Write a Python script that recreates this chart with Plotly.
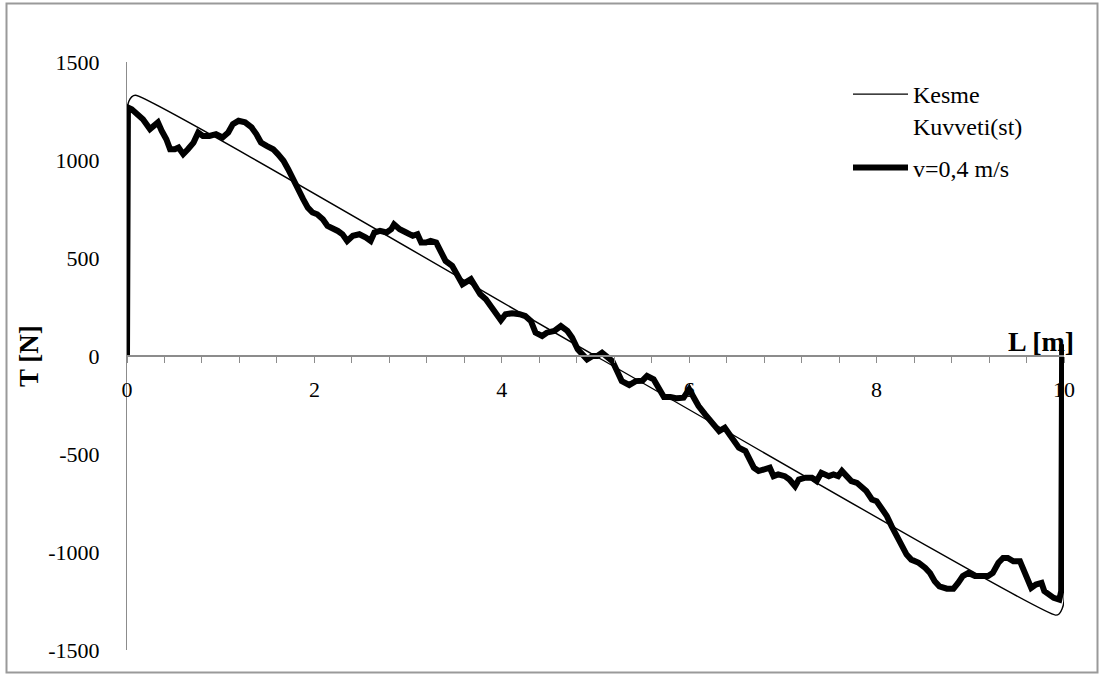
import plotly.graph_objects as go

# Kesme kuvveti (theoretical shear force) along the beam
L_st = [0.0, 0.0, 0.02, 0.05, 0.09, 5.0, 9.91, 9.95, 9.98, 10.0, 10.0]
T_st = [0, 1250, 1300, 1322, 1330, 0, -1322, -1315, -1290, -1250, 0]

# Measured force, v = 0,4 m/s
L_v04 = [0.0, 0.01, 0.05, 0.10, 0.17, 0.245, 0.30, 0.33, 0.37, 0.42, 0.46, 0.51,
         0.55, 0.60, 0.65, 0.71, 0.76, 0.81, 0.88, 0.95, 1.02, 1.08, 1.13, 1.19,
         1.26, 1.33, 1.38, 1.43, 1.49, 1.56, 1.61, 1.67, 1.72, 1.77, 1.82, 1.88,
         1.93, 1.98, 2.03, 2.09, 2.14, 2.19, 2.25, 2.30, 2.35, 2.41, 2.48, 2.55,
         2.60, 2.64, 2.70, 2.77, 2.82, 2.85, 2.91, 2.98, 3.05, 3.10, 3.14, 3.19,
         3.24, 3.30, 3.35, 3.40, 3.47, 3.53, 3.58, 3.67, 3.72, 3.77, 3.83, 3.88,
         3.94, 3.99, 4.04, 4.11, 4.19, 4.25, 4.31, 4.36, 4.43, 4.48, 4.56, 4.63,
         4.70, 4.75, 4.81, 4.86, 4.91, 4.97, 5.02, 5.07, 5.12, 5.18, 5.23, 5.28,
         5.36, 5.43, 5.50, 5.55, 5.62, 5.68, 5.73, 5.80, 5.87, 5.94, 6.00, 6.05,
         6.10, 6.17, 6.24, 6.32, 6.38, 6.45, 6.53, 6.60, 6.65, 6.69, 6.74, 6.81,
         6.86, 6.90, 6.95, 7.02, 7.07, 7.13, 7.17, 7.24, 7.31, 7.36, 7.41, 7.49,
         7.54, 7.59, 7.63, 7.68, 7.73, 7.79, 7.84, 7.89, 7.95, 8.00, 8.05, 8.11,
         8.16, 8.21, 8.27, 8.32, 8.37, 8.45, 8.52, 8.57, 8.62, 8.67, 8.75, 8.82,
         8.87, 8.92, 8.98, 9.05, 9.12, 9.19, 9.24, 9.30, 9.35, 9.40, 9.46, 9.53,
         9.56, 9.60, 9.65, 9.70, 9.76, 9.79, 9.84, 9.89, 9.95, 9.97, 9.98]
T_v04 = [0, 1268, 1259, 1234, 1208, 1158, 1183, 1192, 1149, 1106, 1055, 1055,
         1064, 1030, 1055, 1089, 1140, 1123, 1123, 1132, 1115, 1140, 1183, 1200,
         1192, 1166, 1132, 1089, 1072, 1055, 1030, 996, 953, 902, 851, 800,
         757, 732, 723, 698, 664, 655, 638, 621, 587, 613, 621, 604,
         587, 630, 638, 630, 647, 672, 647, 630, 613, 621, 579, 579,
         587, 579, 536, 485, 460, 408, 366, 392, 357, 315, 289, 255,
         213, 182, 213, 218, 213, 204, 179, 119, 102, 119, 128, 153,
         128, 94, 34, 9, -17, 0, 0, 17, 0, -26, -77, -128,
         -148, -128, -126, -102, -119, -162, -209, -209, -216, -213, -170, -213,
         -255, -298, -341, -383, -366, -417, -468, -485, -536, -570, -587, -579,
         -570, -613, -604, -613, -630, -664, -630, -621, -621, -638, -596, -613,
         -604, -613, -587, -613, -638, -647, -664, -689, -732, -741, -775, -817,
         -868, -919, -970, -1013, -1039, -1055, -1081, -1107, -1149, -1175, -1187, -1187,
         -1158, -1123, -1107, -1123, -1123, -1123, -1107, -1055, -1030, -1030, -1047, -1047,
         -1081, -1132, -1183, -1166, -1158, -1200, -1217, -1234, -1243, -1200, 60]

y_tickvals = [1500, 1000, 500, 0, -500, -1000, -1500]
y_ticktext = ["1500", "1000", "500", "0", "-500", "-1000", "-1500"]
x_tickvals = [0, 2, 4, 6, 8, 10]
x_ticktext = ["0", "2", "4", "6", "8", "10"]

W, H = 1103, 675
ML, MR, MT, MB = 127, 39, 62, 25
FONT = "Liberation Serif, Times New Roman, serif"

fig = go.Figure()
fig.add_trace(go.Scatter(
    x=L_st, y=T_st, mode="lines", name="Kesme<br>Kuvveti(st)",
    legendgroup="st",
    line=dict(color="black", width=1.4, shape="spline", smoothing=0.6),
))
fig.add_trace(go.Scatter(
    x=L_v04, y=T_v04, mode="lines", name="v=0,4 m/s",
    legendgroup="v04",
    line=dict(color="black", width=6),
))

# outer chart frame, expressed in paper units from pixel positions
pw, ph = W - ML - MR, H - MT - MB
def px_x(p):
    return (p - ML) / pw
def px_y(p):
    return (H - MB - p) / ph

fig.add_shape(type="rect", xref="paper", yref="paper",
              x0=px_x(6.5), x1=px_x(1097.5), y0=px_y(672.5), y1=px_y(3.5),
              line=dict(color="#9a9a9a", width=2), layer="below")

fig.add_annotation(text="<b>L [m]</b>", xref="paper", yref="paper",
                   x=px_x(1041), y=px_y(341), xanchor="center", yanchor="middle",
                   showarrow=False,
                   font=dict(family=FONT, size=28, color="black"))
fig.add_annotation(text="<b>T [N]</b>", xref="paper", yref="paper",
                   x=px_x(29), y=px_y(356), xanchor="center", yanchor="middle",
                   showarrow=False, textangle=-90,
                   font=dict(family=FONT, size=27, color="black"))

fig.update_layout(
    width=W, height=H,
    margin=dict(l=ML, r=MR, t=MT, b=MB),
    paper_bgcolor="white", plot_bgcolor="white",
    font=dict(family=FONT, size=22, color="black"),
    showlegend=True,
    legend=dict(x=px_x(848), y=px_y(72), xanchor="left", yanchor="top",
                bgcolor="rgba(0,0,0,0)", font=dict(family=FONT, size=24),
                itemwidth=55, tracegroupgap=8, valign="top"),
    xaxis=dict(range=[0, 10], anchor="free", position=0.5,
               showgrid=False, zeroline=False, showline=True,
               linecolor="#8c8c8c", linewidth=2,
               tickvals=x_tickvals, ticktext=x_ticktext,
               ticks="outside", ticklen=6, tickcolor="#8c8c8c", tickwidth=1,
               minor=dict(dtick=0.4, ticks="outside", ticklen=6,
                          tickcolor="#8c8c8c", tickwidth=1),
               ticklabelstandoff=8,
               tickfont=dict(family=FONT, size=22, color="black")),
    yaxis=dict(range=[-1500, 1500], showgrid=False, zeroline=False,
               showline=True, linecolor="#8c8c8c", linewidth=1,
               tickvals=y_tickvals, ticktext=y_ticktext, ticks="",
               ticklabelstandoff=22,
               tickfont=dict(family=FONT, size=22, color="black")),
)

fig.write_html("out.html")
